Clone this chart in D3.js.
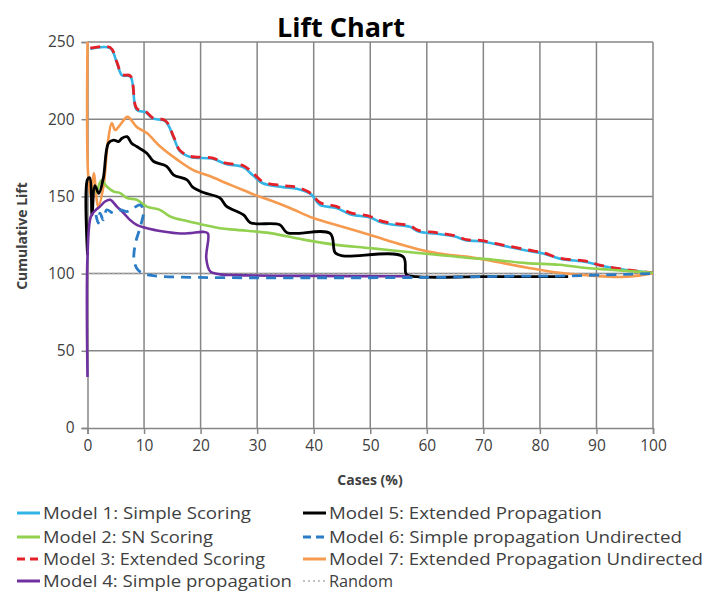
<!DOCTYPE html>
<html><head><meta charset="utf-8">
<script src="https://cdn.jsdelivr.net/npm/d3@7"></script>
<style>
body{margin:0;background:#fff;}
text{font-family:"Open Sans",sans-serif;}
</style></head>
<body><svg id="chart" width="709" height="595"></svg>
<script>
// ---- data (x = cases %, y = cumulative lift) ----
const xTicks = [0,10,20,30,40,50,60,70,80,90,100];
const yTicks = [0,50,100,150,200,250];
const model1 = [[0.5,245.5],[4,246],[5.2,236.5],[6.1,228.5],[7.6,227.5],[8.7,206],[10.3,204.5],[11.5,200.5],[13.8,198.5],[15.3,187.5],[16.3,179.5],[18.2,175.5],[22,174.5],[24.5,171],[27.5,169],[29.3,163.5],[31,158.5],[34.5,156],[37,155],[39.5,151.5],[41.1,144.5],[44,142.5],[46.4,138.5],[50,136.3],[51.5,133.8],[53.5,132],[57,130.3],[58.5,127.3],[61.7,125.8],[65,124],[67,121.5],[69.5,121],[73.5,118],[77.6,115],[80.6,113],[83.5,109.7],[88.2,107.5],[90.6,105.3],[95.3,102.3],[100,100.5]];
const model2 = [[1.6,152],[2.5,160.5],[3.4,156.4],[4.6,153.2],[5.8,152.1],[7,149],[8.7,147.8],[10.5,143.4],[12.8,141.3],[14.6,137],[17.6,134],[20.5,131.6],[23.4,129.4],[26.4,128.3],[32.3,126.2],[38.2,122],[44,118.6],[50,116.5],[55.8,114.3],[61.7,112.2],[67,110.3],[71.7,109],[77.6,106.8],[83.5,105.7],[88.2,103.6],[92.4,102.5],[100,100.5]];
const model3 = [[0.5,246],[4,246.5],[5.2,237],[6.1,229],[7.6,228],[8.7,207],[10.3,205],[11.5,201],[13.8,199],[15.3,188],[16.3,180],[18.2,176],[22,175],[24.5,171.5],[27.5,170],[29.3,165],[31,159.5],[34.5,157],[37,156],[39.5,152],[41.1,146],[44,143.5],[46.4,139.5],[50,137],[51.5,134.5],[53.5,132.8],[57,131],[58.5,128],[61.7,126.5],[65,124.5],[67,122],[69.5,121.5],[73.5,118.5],[77.6,115.5],[80.6,113.5],[83.5,110],[88.2,108],[90.6,105.5],[95.3,102.5],[100,100.5]];
const model4 = [[0,33],[0,111],[0.6,137],[1.4,141],[2.2,143.4],[3.1,146.7],[4,147.8],[5.2,143.4],[6.4,139.2],[7.5,134.8],[8.7,131.6],[10.5,129.4],[13.4,127.3],[16.4,126],[18.1,126.2],[20.5,127],[21.3,126],[21,110],[21.7,101.4],[23.5,99.5],[26.4,99],[40,98.5],[57,98.3]];
const model5 = [[0,112],[0,161],[0.4,162],[0.8,138],[1.3,157],[2,152],[2.8,162],[3.7,184.5],[4.6,186.5],[5.5,185.5],[6.1,187.7],[7,188.7],[7.8,184.5],[8.7,182.3],[10.5,178],[11.7,172.6],[14,169.5],[15.2,164],[17.6,160.7],[18.6,156],[20.5,152.5],[23.4,149],[24.6,143.5],[27.6,138],[28.8,133],[34,131.6],[35.3,126.5],[42.9,126],[43.8,113.5],[45.2,111.5],[55.8,111],[56.4,99.5],[58.2,98],[70,98],[85,98]];
const model6 = [[1.5,138],[1.9,132.7],[2.2,139.2],[2.8,134.8],[3.4,141.3],[4.6,139.2],[5.8,141.3],[7,140.2],[8.1,142.4],[9.3,144.5],[9.9,141],[9.4,131],[8.5,120],[8.2,110],[8.7,103.5],[9.6,100.5],[11,99],[13,98.2],[20,97.5],[40,97.3],[60,97.5],[75,98.3],[85,98.5],[95,99.5],[100,100]];
const model7 = [[0,250],[0.1,165],[0.6,150],[1.1,165],[1.9,143.5],[2.8,156],[3.6,185],[4.3,197.5],[4.9,193],[5.8,196.5],[7,201.5],[7.5,200.5],[8.7,195],[10.5,191],[12.8,182.5],[15.8,174],[18.7,167],[21.7,163],[24.6,158.5],[27.6,154],[29.9,150.5],[32.3,147.5],[35.8,142.5],[39.9,136],[44,131.5],[50,125],[55.8,118.5],[60,114.5],[64.1,112],[67,111],[71.7,108],[77.6,104],[83.5,100.5],[89.4,98.6],[94.1,97.8],[97,98.5],[100,100.3]];
const randomLine = [[0,100],[100,100]];

const seriesNames = ["Model 1: Simple Scoring","Model 2: SN Scoring","Model 3: Extended Scoring","Model 4: Simple propagation","Model 5: Extended Propagation","Model 6: Simple propagation Undirected","Model 7: Extended Propagation Undirected","Random"];

// ---- styles ----
const styles = {
  "Model 1: Simple Scoring": {color:"#33b4e6", dash:null, w:2.6},
  "Model 2: SN Scoring": {color:"#92d050", dash:null, w:2.6},
  "Model 3: Extended Scoring": {color:"#e42128", dash:"10,7", w:2.8},
  "Model 4: Simple propagation": {color:"#7030a0", dash:null, w:2.6},
  "Model 5: Extended Propagation": {color:"#000000", dash:null, w:2.8},
  "Model 6: Simple propagation Undirected": {color:"#2a7cc6", dash:"10,7", w:2.8},
  "Model 7: Extended Propagation Undirected": {color:"#f59a4e", dash:null, w:2.6},
  "Random": {color:"#b0b0b0", dash:"2,3", w:1.5}
};
const dataByName = {
  "Model 1: Simple Scoring": model1, "Model 2: SN Scoring": model2,
  "Model 3: Extended Scoring": model3, "Model 4: Simple propagation": model4,
  "Model 5: Extended Propagation": model5, "Model 6: Simple propagation Undirected": model6,
  "Model 7: Extended Propagation Undirected": model7, "Random": randomLine
};
const drawOrder = ["Random","Model 1: Simple Scoring","Model 3: Extended Scoring","Model 7: Extended Propagation Undirected","Model 2: SN Scoring","Model 5: Extended Propagation","Model 4: Simple propagation","Model 6: Simple propagation Undirected"];

const svg = d3.select("#chart");
svg.append("rect").attr("width",709).attr("height",595).attr("fill","#fff");

const x = d3.scaleLinear().domain([0,100]).range([87.5,653]);
const y = d3.scaleLinear().domain([0,250]).range([428,42]);
const grid = "#868686", txt = "#404040";

// gridlines
svg.append("g").selectAll("line.v").data(xTicks.slice(1)).join("line")
  .attr("x1",d=>x(d)).attr("x2",d=>x(d)).attr("y1",y(0)).attr("y2",y(250))
  .attr("stroke",grid).attr("stroke-width",1.5);
svg.append("g").selectAll("line.h").data(yTicks.slice(1)).join("line")
  .attr("x1",x(0)).attr("x2",x(100)).attr("y1",d=>y(d)).attr("y2",d=>y(d))
  .attr("stroke",grid).attr("stroke-width",1.5);

// axes
const xAxis = d3.axisBottom(x).tickValues(xTicks).tickSize(6).tickPadding(6);
const gx = svg.append("g").attr("transform",`translate(0,${y(0)})`).call(xAxis);
const yAxis = d3.axisLeft(y).tickValues(yTicks).tickSize(6).tickPadding(7);
const gy = svg.append("g").attr("transform",`translate(${x(0)},0)`).call(yAxis);
[gx,gy].forEach(g=>{
  g.select(".domain").attr("stroke",grid).attr("stroke-width",1.5);
  g.selectAll(".tick line").attr("stroke",grid).attr("stroke-width",1.5);
  g.selectAll(".tick text").attr("fill",txt).style("font-size","15.5px").style("font-family","'Open Sans',sans-serif");
});

// lines
const line = d3.line().x(d=>x(d[0])).y(d=>y(d[1])).curve(d3.curveCatmullRom.alpha(0.5));
const plot = svg.append("g");
drawOrder.forEach(name=>{
  const s = styles[name];
  plot.append("path").datum(dataByName[name])
    .attr("d", name==="Random" ? d3.line().x(d=>x(d[0])).y(d=>y(d[1])) : line)
    .attr("fill","none").attr("stroke",s.color).attr("stroke-width",s.w)
    .attr("stroke-dasharray",s.dash).attr("stroke-linejoin","round");
});

// title and axis titles
svg.append("text").attr("x",341).attr("y",37).attr("text-anchor","middle")
  .style("font-size","27px").style("font-weight","bold").attr("fill","#000").text("Lift Chart");
svg.append("text").attr("x",370).attr("y",485).attr("text-anchor","middle")
  .style("font-size","14px").style("font-weight","bold").attr("fill",txt).text("Cases (%)");
svg.append("text").attr("transform","translate(27,236) rotate(-90)").attr("text-anchor","middle")
  .style("font-size","14px").style("font-weight","bold").attr("fill",txt).text("Cumulative Lift");

// legend (layout)
const legendLayout = [
  {x:17,y:513,w:208},{x:17,y:537,w:170},{x:17,y:559,w:222},{x:17,y:581,w:249},
  {x:303,y:513,w:273},{x:303,y:537,w:353},{x:303,y:559,w:374},{x:303,y:581,w:64}
];
const lg = svg.append("g");
seriesNames.forEach((name,i)=>{
  const L = legendLayout[i]; const s = styles[name];
  lg.append("line").attr("x1",L.x).attr("x2",L.x+23).attr("y1",L.y).attr("y2",L.y)
    .attr("stroke",s.color).attr("stroke-width",name==="Random"?1.5:3)
    .attr("stroke-dasharray",name==="Random"?"2,3":(s.dash?"8,5":null));
  lg.append("text").attr("x",L.x+26).attr("y",L.y).attr("dy","0.35em")
    .style("font-size","16px").attr("fill",txt)
    .attr("textLength",L.w).attr("lengthAdjust","spacingAndGlyphs").text(name);
});
</script></body></html>
